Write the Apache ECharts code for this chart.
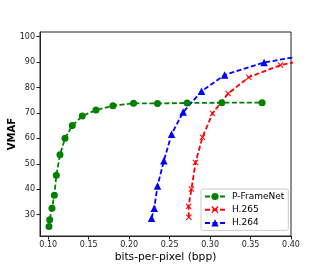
<!DOCTYPE html>
<html><head><meta charset="utf-8">
<script src="https://cdn.jsdelivr.net/npm/echarts@6/dist/echarts.min.js"></script>
<style>html,body{margin:0;padding:0;background:#fff}#c{width:324px;height:270px}</style>
</head><body><div id="c"></div>
<script>
const xTicks = [0.10, 0.15, 0.20, 0.25, 0.30, 0.35, 0.40];
const yTicks = [30, 40, 50, 60, 70, 80, 90, 100];

const pframeBpp  = [0.1009, 0.1018, 0.1046, 0.1075, 0.110, 0.1145, 0.1207, 0.1297, 0.142, 0.159, 0.180, 0.2054, 0.235, 0.2717, 0.3145, 0.3643];
const pframeVmaf = [25.3, 28.0, 32.5, 37.6, 45.5, 53.5, 60.0, 65.0, 68.8, 71.1, 72.8, 73.8, 73.7, 73.9, 74.0, 74.0];

const h265Bpp  = [0.2738, 0.2734, 0.277, 0.282, 0.2906, 0.303, 0.3223, 0.3478, 0.387, 0.43];
const h265Vmaf = [29.0, 33.3, 40.1, 50.5, 60.4, 69.8, 77.6, 84.0, 88.8, 91.5];

const h264Bpp  = [0.2276, 0.231, 0.235, 0.2429, 0.2524, 0.2667, 0.2894, 0.318, 0.3667, 0.415];
const h264Vmaf = [28.6, 32.5, 41.3, 51.2, 61.6, 70.3, 78.5, 84.9, 89.8, 92.5];

const pairs = (xs, ys) => xs.map((x, i) => [x, ys[i]]);
const FONT = 'DejaVu Sans';
const crossPath = 'path://M0,1.2 L1.2,0 L5,3.8 L8.8,0 L10,1.2 L6.2,5 L10,8.8 L8.8,10 L5,6.2 L1.2,10 L0,8.8 L3.8,5Z';

const chart = echarts.init(document.getElementById('c'), null, {renderer: 'canvas'});
function mkSeries(name, data, color, symbol, size) {
  return {
    name, type: 'line', data, symbol, symbolSize: size, showAllSymbol: true,
    clip: true, animation: false,
    lineStyle: {color, width: 1.8, type: [5, 2.5]},
    itemStyle: {color, borderWidth: 0}
  };
}
chart.setOption({
  animation: false,
  textStyle: {fontFamily: FONT},
  grid: {left: 40, top: 32, right: 33, bottom: 34, outerBoundsMode: 'none', containLabel: false,
    show: true, borderColor: '#222', borderWidth: 1, backgroundColor: 'transparent'},
  xAxis: {
    type: 'value', min: 0.0898, max: 0.40,
    name: 'bits-per-pixel (bpp)', nameLocation: 'middle', nameGap: 16, nameMoveOverlap: false,
    nameTextStyle: {fontFamily: FONT, fontSize: 10.7, color: '#000'},
    axisLine: {show: true, onZero: false, lineStyle: {color: '#222', width: 1}},
    axisTick: {show: true, length: 3.5, inside: false, customValues: xTicks, lineStyle: {color: '#222'}},
    axisLabel: {customValues: xTicks, fontFamily: FONT, fontSize: 8, color: '#222', margin: 5,
      formatter: v => v.toFixed(2)},
    splitLine: {show: false}
  },
  yAxis: {
    type: 'value', min: 21.6, max: 101.8,
    name: 'VMAF', nameLocation: 'middle', nameGap: 23, nameRotate: 90, nameMoveOverlap: false,
    nameTextStyle: {fontFamily: FONT, fontSize: 10, fontWeight: 'bold', color: '#000'},
    axisLine: {show: true, onZero: false, lineStyle: {color: '#222', width: 1}},
    axisTick: {show: true, length: 3.5, inside: false, customValues: yTicks, lineStyle: {color: '#222'}},
    axisLabel: {customValues: yTicks, fontFamily: FONT, fontSize: 8, color: '#222', margin: 5},
    splitLine: {show: false}
  },
  legend: {
    orient: 'vertical', left: 201, top: 189, width: 78,
    backgroundColor: '#fff', borderColor: '#ccc', borderWidth: 1, borderRadius: 2,
    padding: [3, 4, 3, 3], itemGap: 4.2, itemWidth: 20, itemHeight: 9,
    textStyle: {fontFamily: FONT, fontSize: 9, color: '#000', padding: [0, 0, 0, 2]},
    data: ['P-FrameNet', 'H.265', 'H.264']
  },
  series: [
    mkSeries('P-FrameNet', pairs(pframeBpp, pframeVmaf), '#008000', 'circle', 7),
    mkSeries('H.265', pairs(h265Bpp, h265Vmaf), '#ff0000', crossPath, 6),
    mkSeries('H.264', pairs(h264Bpp, h264Vmaf), '#0000ff', 'triangle', 7.5)
  ]
});
</script></body></html>
